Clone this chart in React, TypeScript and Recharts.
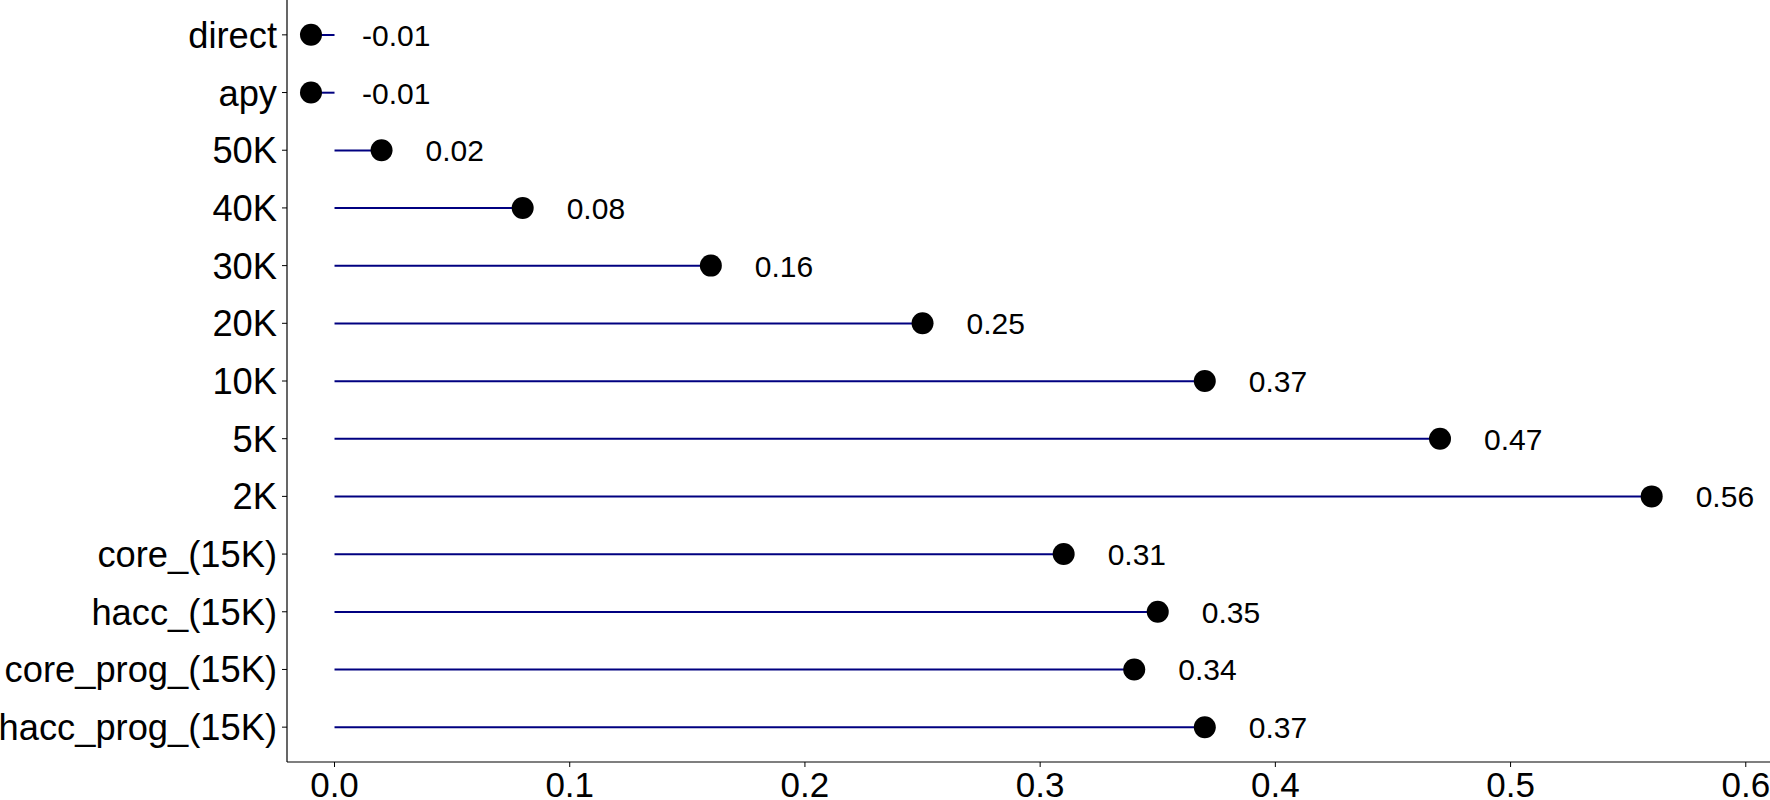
import { ComposedChart, Bar, Line, XAxis, YAxis, LabelList } from "recharts";

const categories = [
  "direct",
  "apy",
  "50K",
  "40K",
  "30K",
  "20K",
  "10K",
  "5K",
  "2K",
  "core_(15K)",
  "hacc_(15K)",
  "core_prog_(15K)",
  "hacc_prog_(15K)",
];
const values = [-0.01, -0.01, 0.02, 0.08, 0.16, 0.25, 0.37, 0.47, 0.56, 0.31, 0.35, 0.34, 0.37];
const xTicks = [0, 0.1, 0.2, 0.3, 0.4, 0.5, 0.6];

const data = categories.map((name, i) => ({ name, value: values[i] }));

const FONT = "'Liberation Sans', Arial, Helvetica, sans-serif";

const YTick = (props: any) => {
  const { x, y, payload } = props;
  return (
    <text x={x} y={y} dy={13} textAnchor="end" fontSize={36.3} fontFamily={FONT} fill="#000">
      {payload.value}
    </text>
  );
};

const XTick = (props: any) => {
  const { x, y, payload } = props;
  return (
    <text x={x} y={y} dy={30} textAnchor="middle" fontSize={35} fontFamily={FONT} fill="#000">
      {Number(payload.value).toFixed(1)}
    </text>
  );
};

// value label to the right of each point
const ValueLabel = (props: any) => {
  const { x, y, value } = props;
  const shift = value < 0 ? 51 : 44;
  return (
    <text x={x + shift} y={y} dy={11} textAnchor="start" fontSize={30} fontFamily={FONT} fill="#000">
      {Number(value).toFixed(2)}
    </text>
  );
};

export default function App() {
  return (
    <div style={{ position: "absolute", left: 0, top: 0, width: 1770, height: 800, background: "#fff" }}>
      <ComposedChart
        width={1770}
        height={800}
        data={data}
        layout="vertical"
        margin={{ top: 0, right: 0, left: 0, bottom: 0 }}
      >
        <XAxis
          type="number"
          domain={[-0.0202, 0.6103]}
          ticks={xTicks}
          allowDataOverflow
          height={38}
          tickSize={5}
          tickMargin={0}
          axisLine={{ stroke: "#000", strokeWidth: 1.2 }}
          tickLine={{ stroke: "#000" }}
          tick={<XTick />}
        />
        <YAxis
          type="category"
          dataKey="name"
          width={287}
          interval={0}
          padding={{ top: 6, bottom: 6 }}
          tickSize={5}
          tickMargin={5}
          axisLine={{ stroke: "#000", strokeWidth: 1.2 }}
          tickLine={{ stroke: "#000" }}
          tick={<YTick />}
        />
        <Bar dataKey="value" barSize={2} fill="#000080" isAnimationActive={false} />
        <Line
          dataKey="value"
          stroke="none"
          dot={{ r: 11, fill: "#000", stroke: "none" }}
          activeDot={false}
          isAnimationActive={false}
        >
          <LabelList dataKey="value" content={<ValueLabel />} />
        </Line>
      </ComposedChart>
    </div>
  );
}
